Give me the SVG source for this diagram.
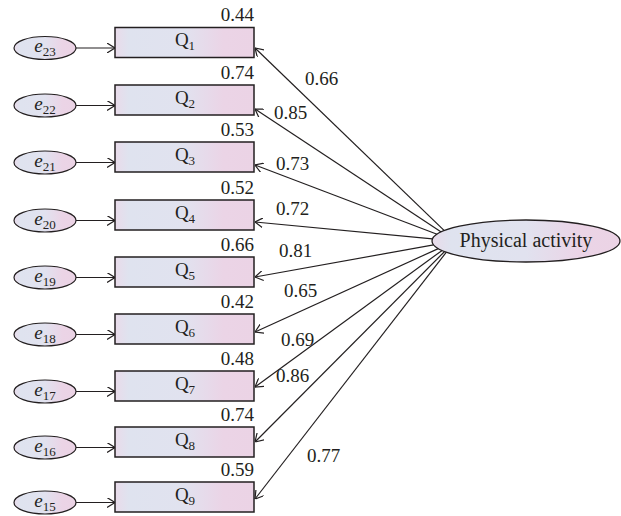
<svg xmlns="http://www.w3.org/2000/svg" width="621" height="516" viewBox="0 0 621 516">
<defs>
<linearGradient id="g" x1="0" y1="0" x2="1" y2="0">
<stop offset="0" stop-color="#e9dbea"/>
<stop offset="0.1" stop-color="#dfe3ef"/>
<stop offset="0.5" stop-color="#e1e2ef"/>
<stop offset="0.78" stop-color="#ebd4e6"/>
<stop offset="1" stop-color="#ebd3e5"/>
</linearGradient>
<marker id="ah" viewBox="0 0 8 10" refX="8" refY="5" markerWidth="8" markerHeight="10" markerUnits="userSpaceOnUse" orient="auto">
<path d="M0,0 L8,5 L0,10" fill="none" stroke="#231f20" stroke-width="1.2"/>
</marker>
<style>
.box{fill:url(#g);stroke:#231f20;stroke-width:1.5}
.err{fill:url(#g);stroke:#231f20;stroke-width:1.2}
.lat{fill:url(#g);stroke:#231f20;stroke-width:1.3}
.t{font-family:"Liberation Serif","Times New Roman",serif;font-size:19px;fill:#231f20}
.c{text-anchor:middle}
.r{text-anchor:end}
.ei{font-style:italic}
.sub{font-style:normal;font-size:13px}
.ln{stroke:#231f20;stroke-width:1.2;fill:none;marker-end:url(#ah)}
</style>
</defs>
<g id="connectors">
<line class="ln" x1="76" y1="48" x2="115" y2="48"/>
<line class="ln" x1="76" y1="105.5" x2="115" y2="105.5"/>
<line class="ln" x1="76" y1="162.5" x2="115" y2="162.5"/>
<line class="ln" x1="76" y1="220.5" x2="115" y2="220.5"/>
<line class="ln" x1="76" y1="277.5" x2="115" y2="277.5"/>
<line class="ln" x1="76" y1="334.5" x2="115" y2="334.5"/>
<line class="ln" x1="76" y1="391.5" x2="115" y2="391.5"/>
<line class="ln" x1="76" y1="447.5" x2="115" y2="447.5"/>
<line class="ln" x1="76" y1="502.5" x2="115" y2="502.5"/>
<line class="ln" x1="444.3" y1="230.6" x2="255" y2="48"/>
<line class="ln" x1="441.2" y1="231.9" x2="255" y2="109"/>
<line class="ln" x1="437.1" y1="234.2" x2="255" y2="165"/>
<line class="ln" x1="432.5" y1="238.9" x2="255" y2="222"/>
<line class="ln" x1="433.6" y1="244.9" x2="255" y2="277"/>
<line class="ln" x1="438.3" y1="248.6" x2="255" y2="332"/>
<line class="ln" x1="442.1" y1="250.4" x2="255" y2="387"/>
<line class="ln" x1="444.6" y1="251.5" x2="255" y2="442"/>
<line class="ln" x1="446.4" y1="252.1" x2="255" y2="499"/>
</g>
<g id="labels" class="t">
<text x="305" y="85">0.66</text>
<text x="274" y="119">0.85</text>
<text x="276" y="170">0.73</text>
<text x="276" y="215">0.72</text>
<text x="279" y="257">0.81</text>
<text x="284" y="297">0.65</text>
<text x="281" y="346">0.69</text>
<text x="276" y="382">0.86</text>
<text x="307" y="462">0.77</text>
</g>
<g id="physical-activity">
<ellipse class="lat" cx="526" cy="241" rx="94" ry="21"/>
<text class="t c" x="526" y="247" style="font-size:20px">Physical activity</text>
</g>
<g id="Q1"><rect class="box" x="115" y="27.5" width="139" height="30"/><text class="t c" x="185" y="46">Q<tspan class="sub" dy="4">1</tspan></text><text class="t r" x="254" y="21">0.44</text></g>
<g id="Q2"><rect class="box" x="115" y="85" width="139" height="30"/><text class="t c" x="185" y="103.5">Q<tspan class="sub" dy="4">2</tspan></text><text class="t r" x="254" y="78.5">0.74</text></g>
<g id="Q3"><rect class="box" x="115" y="142" width="139" height="30"/><text class="t c" x="185" y="160.5">Q<tspan class="sub" dy="4">3</tspan></text><text class="t r" x="254" y="135.5">0.53</text></g>
<g id="Q4"><rect class="box" x="115" y="200" width="139" height="30"/><text class="t c" x="185" y="218.5">Q<tspan class="sub" dy="4">4</tspan></text><text class="t r" x="254" y="193.5">0.52</text></g>
<g id="Q5"><rect class="box" x="115" y="257" width="139" height="30"/><text class="t c" x="185" y="275.5">Q<tspan class="sub" dy="4">5</tspan></text><text class="t r" x="254" y="250.5">0.66</text></g>
<g id="Q6"><rect class="box" x="115" y="314" width="139" height="30"/><text class="t c" x="185" y="332.5">Q<tspan class="sub" dy="4">6</tspan></text><text class="t r" x="254" y="307.5">0.42</text></g>
<g id="Q7"><rect class="box" x="115" y="371" width="139" height="30"/><text class="t c" x="185" y="389.5">Q<tspan class="sub" dy="4">7</tspan></text><text class="t r" x="254" y="364.5">0.48</text></g>
<g id="Q8"><rect class="box" x="115" y="427" width="139" height="30"/><text class="t c" x="185" y="445.5">Q<tspan class="sub" dy="4">8</tspan></text><text class="t r" x="254" y="420.5">0.74</text></g>
<g id="Q9"><rect class="box" x="115" y="482" width="139" height="30"/><text class="t c" x="185" y="500.5">Q<tspan class="sub" dy="4">9</tspan></text><text class="t r" x="254" y="475.5">0.59</text></g>
<g id="e23"><ellipse class="err" cx="45" cy="48" rx="31" ry="11.5"/><text class="t c ei" x="45" y="52">e<tspan class="sub" dy="4">23</tspan></text></g>
<g id="e22"><ellipse class="err" cx="45" cy="105.5" rx="31" ry="11.5"/><text class="t c ei" x="45" y="109.5">e<tspan class="sub" dy="4">22</tspan></text></g>
<g id="e21"><ellipse class="err" cx="45" cy="162.5" rx="31" ry="11.5"/><text class="t c ei" x="45" y="166.5">e<tspan class="sub" dy="4">21</tspan></text></g>
<g id="e20"><ellipse class="err" cx="45" cy="220.5" rx="31" ry="11.5"/><text class="t c ei" x="45" y="224.5">e<tspan class="sub" dy="4">20</tspan></text></g>
<g id="e19"><ellipse class="err" cx="45" cy="277.5" rx="31" ry="11.5"/><text class="t c ei" x="45" y="281.5">e<tspan class="sub" dy="4">19</tspan></text></g>
<g id="e18"><ellipse class="err" cx="45" cy="334.5" rx="31" ry="11.5"/><text class="t c ei" x="45" y="338.5">e<tspan class="sub" dy="4">18</tspan></text></g>
<g id="e17"><ellipse class="err" cx="45" cy="391.5" rx="31" ry="11.5"/><text class="t c ei" x="45" y="395.5">e<tspan class="sub" dy="4">17</tspan></text></g>
<g id="e16"><ellipse class="err" cx="45" cy="447.5" rx="31" ry="11.5"/><text class="t c ei" x="45" y="451.5">e<tspan class="sub" dy="4">16</tspan></text></g>
<g id="e15"><ellipse class="err" cx="45" cy="502.5" rx="31" ry="11.5"/><text class="t c ei" x="45" y="506.5">e<tspan class="sub" dy="4">15</tspan></text></g>
</svg>
